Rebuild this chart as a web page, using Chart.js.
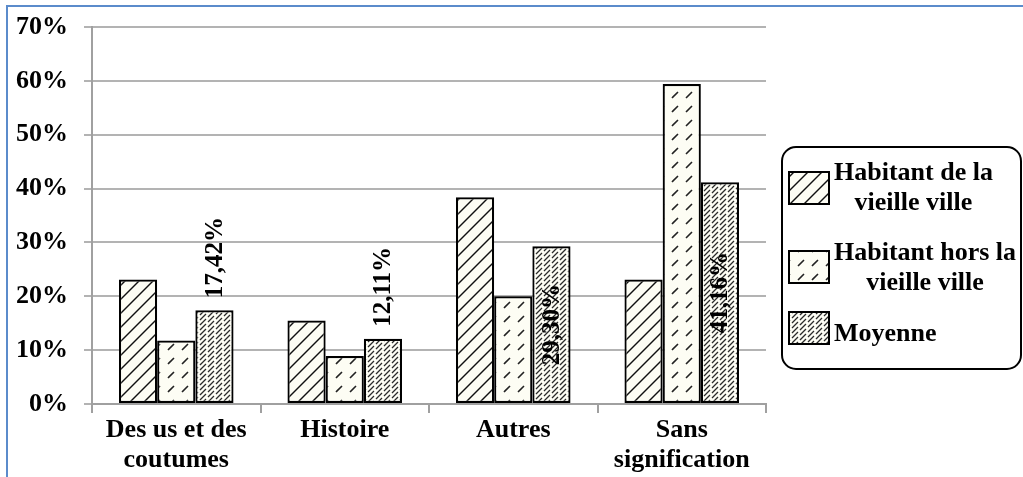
<!DOCTYPE html>
<html>
<head>
<meta charset="utf-8">
<script src="https://cdn.jsdelivr.net/npm/chart.js@4/dist/chart.umd.min.js"></script>
<style>
  html, body { margin: 0; padding: 0; background: #fff; overflow: hidden; }
  #wrap { position: relative; width: 1023px; height: 477px; overflow: hidden; }
  #c { position: absolute; left: 0; top: 0; }
  #frame { position: absolute; left: 6px; top: 5px; width: 1040px; height: 500px;
           border-top: 2px solid #5b8bcb; border-left: 2px solid #5b8bcb; pointer-events: none; }
</style>
</head>
<body>
<div id="wrap">
  <canvas id="c" width="1023" height="477"></canvas>
  <div id="frame"></div>
</div>
<script>
// Categories (multi-line labels) and the three series, in percent
const categories = [['Des us et des', 'coutumes'], 'Histoire', 'Autres', ['Sans', 'signification']];
const seriesNames = ['Habitant de la vieille ville', 'Habitant hors la vieille ville', 'Moyenne'];
const legendLines = [['Habitant de la', 'vieille ville'], ['Habitant hors la', 'vieille ville'], ['Moyenne']];
const vieilleVille = [23.1, 15.5, 38.4, 23.1];
const horsVieilleVille = [11.8, 8.9, 20.0, 59.4];
const moyenne = [17.42, 12.11, 29.30, 41.16];
const yTickValues = [0, 10, 20, 30, 40, 50, 60, 70];

const FONT = "'Liberation Serif', 'Times New Roman', serif";
const canvas = document.getElementById('c');
const ctx = canvas.getContext('2d');

// Diagonal hatch tile: lines of slope "/" spaced `spacing` px apart along x,
// optionally dashed (dash/gap given in x-units so the tile stays seamless).
function hatch(size, spacing, width, color, dash, gap) {
  const t = document.createElement('canvas');
  t.width = size; t.height = size;
  const g = t.getContext('2d');
  g.fillStyle = '#fdfdf4';
  g.fillRect(0, 0, size, size);
  g.strokeStyle = color;
  g.lineWidth = width;
  if (dash) g.setLineDash([dash * Math.SQRT2, gap * Math.SQRT2]);
  for (let c = -2 * size; c <= 3 * size; c += spacing) {
    g.beginPath();
    g.moveTo(-size, c + size);
    g.lineTo(2 * size, c - 2 * size);
    g.stroke();
  }
  return ctx.createPattern(t, 'repeat');
}

const fillVieille = hatch(14, 14, 1.4, '#111', 0, 0);
const fillHors = hatch(28, 14, 1.6, '#222', 6, 8);
const fillMoy = hatch(40, 5, 1.3, '#2a2a2a', 6, 2);
const fills = [fillVieille, fillHors, fillMoy];

// Value labels on the "Moyenne" bars, rotated, inside the bar when it fits
const valueLabels = {
  id: 'valueLabels',
  afterDatasetsDraw(chart) {
    const meta = chart.getDatasetMeta(2);
    const c = chart.ctx;
    c.save();
    c.font = 'bold 25px ' + FONT;
    c.fillStyle = '#000';
    c.textAlign = 'center';
    c.textBaseline = 'middle';
    meta.data.forEach((bar, i) => {
      const v = chart.data.datasets[2].data[i];
      const txt = v.toFixed(2).replace('.', ',') + '%';
      const tw = c.measureText(txt).width;
      const h = bar.base - bar.y;
      const cy = h > tw + 40 ? (bar.y + bar.base) / 2 : bar.y - 12 - tw / 2;
      c.save();
      c.translate(bar.x, cy);
      c.rotate(-Math.PI / 2);
      c.fillText(txt, 0, 1);
      c.restore();
    });
    c.restore();
  }
};

// Boxed legend with rounded corners at the right of the plot
const boxLegend = {
  id: 'boxLegend',
  afterDraw(chart) {
    const c = chart.ctx;
    c.save();
    c.lineWidth = 2;
    c.strokeStyle = '#000';
    c.beginPath();
    c.roundRect(782, 147, 239, 222, 14);
    c.stroke();
    const swatchY = [172, 251, 312];
    const baselines = [[180, 210], [260, 290], [341]];
    c.font = 'bold 26px ' + FONT;
    c.fillStyle = '#000';
    c.textBaseline = 'alphabetic';
    c.textAlign = 'center';
    chart.data.datasets.forEach((ds, i) => {
      c.fillStyle = ds.backgroundColor;
      c.fillRect(789, swatchY[i], 40, 32);
      c.strokeRect(789, swatchY[i], 40, 32);
      c.fillStyle = '#000';
      const lines = legendLines[i];
      const w = Math.max(...lines.map(l => c.measureText(l).width));
      lines.forEach((l, k) => c.fillText(l, 834 + w / 2, baselines[i][k]));
    });
    c.restore();
  }
};

const datasets = [vieilleVille, horsVieilleVille, moyenne].map((d, i) => ({
  label: seriesNames[i],
  data: d,
  backgroundColor: fills[i],
  borderColor: '#000',
  borderWidth: 2.2,
  borderSkipped: false,
  categoryPercentage: 0.68,
  barPercentage: 1.0
}));

new Chart(ctx, {
  type: 'bar',
  data: { labels: categories, datasets },
  options: {
    responsive: false,
    animation: false,
    layout: { padding: { top: 27, right: 257, left: 0, bottom: 0 } },
    plugins: { legend: { display: false }, tooltip: { enabled: false } },
    scales: {
      x: {
        afterFit(s) { s.height = 73; s.paddingLeft = 0; s.paddingRight = 0; },
        grid: { offset: true, drawOnChartArea: false, drawTicks: true, tickLength: 9, color: '#a0a0a0', lineWidth: 2 },
        border: { color: '#a0a0a0', width: 2 },
        ticks: { color: '#000', font: { family: FONT, size: 26, weight: 'bold', lineHeight: 1.15 }, padding: 2, maxRotation: 0, autoSkip: false }
      },
      y: {
        min: 0, max: 70,
        afterFit(s) { s.width = 92; s.paddingTop = 0; s.paddingBottom = 0; },
        afterBuildTicks(s) { s.ticks = yTickValues.map(v => ({ value: v })); },
        grid: { color: '#b3b3b3', lineWidth: 2, drawTicks: true, tickLength: 8 },
        border: { color: '#a0a0a0', width: 2 },
        ticks: { color: '#000', font: { family: FONT, size: 26, weight: 'bold' }, padding: 16, callback: v => v + '%' }
      }
    }
  },
  plugins: [valueLabels, boxLegend]
});
</script>
</body>
</html>
